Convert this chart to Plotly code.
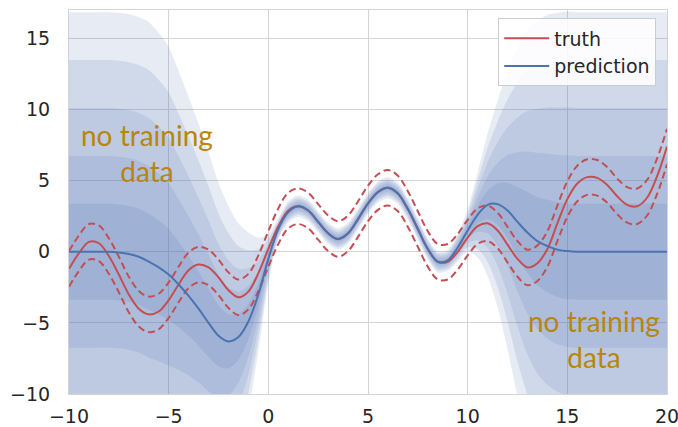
import plotly.graph_objects as go

# Sample positions along the input axis
x_grid = [-10 + 0.5 * i for i in range(61)]

# Ground-truth function values
truth = [-1.2, -0.1, 0.7, 0.6, -0.3, -1.6, -3.0, -4.0, -4.4, -4.2,
         -3.4, -2.3, -1.3, -0.9, -1.1, -1.8, -2.7, -3.2, -2.8, -1.5,
         0.2, 1.8, 2.9, 3.2, 2.9, 2.1, 1.3, 0.9, 1.3, 2.3,
         3.4, 4.2, 4.5, 4.1, 3.0, 1.6, 0.2, -0.7, -0.7, 0.0,
         1.0, 1.8, 2.0, 1.5, 0.5, -0.5, -1.1, -0.8, 0.2, 2.0,
         3.7, 4.8, 5.25, 5.2, 4.7, 3.9, 3.3, 3.2, 3.8, 5.3,
         7.4]

# Observation noise level drawn as dashed envelope around the truth
noise_sd = 1.25

# Predictive mean
pred_mean = [0.0, 0.0, 0.0, 0.0, 0.0, -0.05, -0.15, -0.35, -0.7, -1.1,
             -1.6, -2.3, -3.1, -4.0, -5.0, -5.9, -6.3, -6.0, -4.9, -3.0,
             -0.5, 1.6, 2.8, 3.2, 2.9, 2.1, 1.3, 0.9, 1.3, 2.3,
             3.4, 4.2, 4.5, 4.1, 3.0, 1.6, 0.2, -0.7, -0.6, 0.3,
             1.5, 2.6, 3.3, 3.35, 2.9, 2.1, 1.35, 0.75, 0.4, 0.15,
             0.05, 0.0, 0.0, 0.0, 0.0, 0.0, 0.0, 0.0, 0.0, 0.0,
             0.0]

# Predictive standard deviation
pred_std = [3.37] * 9 + [3.3, 3.2, 3.0, 2.8, 2.6, 2.4, 2.15, 1.9, 1.6,
                         1.25, 0.8, 0.35, 0.15] \
    + [0.15] * 17 + [0.2, 0.3, 0.6, 1.0, 1.45, 1.95, 2.45, 2.85, 3.1, 3.25,
                     3.33] + [3.37] * 11

n_sigma = [5, 4, 3, 2, 1]

# Note placed over both regions without training data
note_text = "no training<br>data"
note_pos = [(-6.1, 6.95), (16.35, -6.1)]

RED = "#C44E52"
BLUE = "#4C72B0"
BAND = "rgba(76,114,176,0.14)"
GOLD = "#B8860B"

fig = go.Figure()

# Stacked uncertainty bands, widest first
for k in n_sigma:
    upper = [m + k * s for m, s in zip(pred_mean, pred_std)]
    lower = [m - k * s for m, s in zip(pred_mean, pred_std)]
    fig.add_trace(go.Scatter(x=x_grid, y=upper, mode="lines",
                             line=dict(width=0, shape="spline", smoothing=0.8),
                             showlegend=False, hoverinfo="skip"))
    fig.add_trace(go.Scatter(x=x_grid, y=lower, mode="lines", fill="tonexty",
                             fillcolor=BAND,
                             line=dict(width=0, shape="spline", smoothing=0.8),
                             showlegend=False, hoverinfo="skip"))

truth_hi = [t + noise_sd for t in truth]
truth_lo = [t - noise_sd for t in truth]

fig.add_trace(go.Scatter(x=x_grid, y=truth, mode="lines", name="truth",
                         line=dict(color=RED, width=2, shape="spline")))
for band in (truth_hi, truth_lo):
    fig.add_trace(go.Scatter(x=x_grid, y=band, mode="lines", showlegend=False,
                             line=dict(color=RED, width=2, dash="7px,4px",
                                       shape="spline")))
fig.add_trace(go.Scatter(x=x_grid, y=pred_mean, mode="lines", name="prediction",
                         line=dict(color=BLUE, width=2, shape="spline")))

for xa, ya in note_pos:
    fig.add_annotation(x=xa, y=ya, text=note_text, showarrow=False,
                       font=dict(family="Lato", size=28, color=GOLD),
                       align="center", xanchor="center", yanchor="middle")

axis_common = dict(showgrid=True, gridcolor="#d4d4d4", gridwidth=1.3,
                   zeroline=False, showline=True, linecolor="#d4d4d4",
                   mirror=True, ticks="", automargin=False,
                   ticklabeloverflow="allow",
                   tickfont=dict(family="DejaVu Sans", size=19, color="#262626"))

fig.update_xaxes(range=[-10, 20], tickvals=[-10, -5, 0, 5, 10, 15, 20],
                 ticktext=["\u221210", "\u22125", "0", "5", "10", "15", "20"],
                 ticklabelstandoff=5, **axis_common)
fig.update_yaxes(range=[-10, 17], tickvals=[-10, -5, 0, 5, 10, 15],
                 ticktext=["\u221210", "\u22125", "0", "5", "10", "15"],
                 ticklabelstandoff=14, **axis_common)

fig.update_layout(
    width=678, height=427,
    margin=dict(l=69, r=11, t=10, b=33),
    paper_bgcolor="white", plot_bgcolor="white",
    legend=dict(x=0.982, y=0.978, xanchor="right", yanchor="top",
                traceorder="normal", itemwidth=45,
                bgcolor="rgba(255,255,255,0.85)", bordercolor="#cccccc",
                borderwidth=1, font=dict(family="DejaVu Sans", size=19,
                                         color="#262626")),
)

fig.write_html("out.html")
